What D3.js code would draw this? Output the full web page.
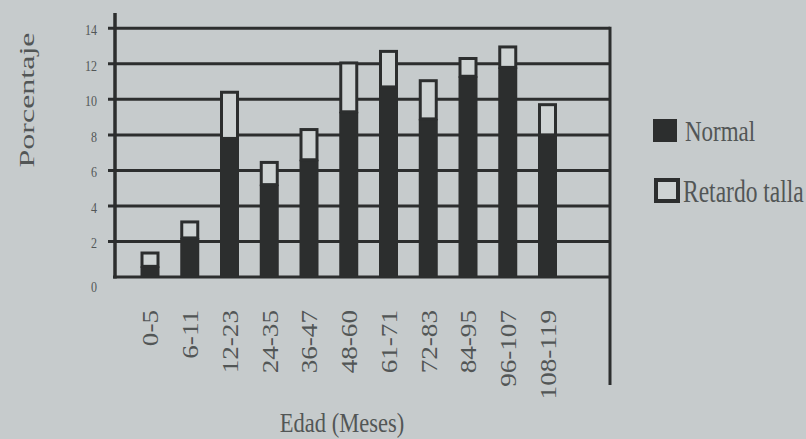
<!DOCTYPE html>
<html>
<head>
<meta charset="utf-8">
<script src="https://cdn.jsdelivr.net/npm/d3@7"></script>
<style>
  html, body { margin: 0; padding: 0; background: #c6cbcc; }
  svg { display: block; }
  text { font-family: "Liberation Serif", "Times New Roman", serif; fill: #53575700; fill: #525656; }
</style>
</head>
<body>
<svg id="chart" width="806" height="439"></svg>
<script>
// ---- data ----
const categories = ["0-5","6-11","12-23","24-35","36-47","48-60","61-71","72-83","84-95","96-107","108-119"];
const normal  = [0.6, 2.2, 7.8, 5.2, 6.6, 9.3, 10.7, 8.9, 11.3, 11.8, 8.0];
const retardo = [0.75, 0.9, 2.6, 1.25, 1.7, 2.75, 2.0, 2.15, 1.0, 1.15, 1.7];
const yTicks = [0, 2, 4, 6, 8, 10, 12, 14];
const seriesNames = ["Normal", "Retardo talla"];

const DARK = "#2c2e2e";
const BOXFILL = "#ced3d3";

const svg = d3.select("#chart");
const rows = categories.map((c, i) => ({cat: c, normal: normal[i], retardo: retardo[i]}));
const stacked = d3.stack().keys(["normal", "retardo"])(rows);

const x = d3.scalePoint().domain(categories).range([150, 547.5]);
const y = d3.scaleLinear().domain([0, 14]).range([277, 28.3]);
const barW = 16;

// gridlines (behind bars)
svg.append("g").selectAll("line").data(yTicks).join("line")
  .attr("x1", d => d === 0 ? 113 : 108).attr("x2", 610)
  .attr("y1", d => y(d)).attr("y2", d => y(d))
  .attr("stroke", DARK).attr("stroke-width", 3);

// right frame line
svg.append("line").attr("x1", 610).attr("x2", 610).attr("y1", y(14) - 1.5).attr("y2", 385)
  .attr("stroke", DARK).attr("stroke-width", 3);

// left axis line
svg.append("line").attr("x1", 115).attr("x2", 115).attr("y1", 13).attr("y2", y(0) + 1.5)
  .attr("stroke", DARK).attr("stroke-width", 3.5);

// Normal bars (dark)
svg.append("g").selectAll("rect").data(stacked[0]).join("rect")
  .attr("x", d => x(d.data.cat) - barW / 2 - 1.5)
  .attr("width", barW + 3)
  .attr("y", d => y(d[1]))
  .attr("height", d => y(d[0]) - y(d[1]))
  .attr("fill", DARK);

// Retardo talla boxes (outlined)
svg.append("g").selectAll("rect").data(stacked[1]).join("rect")
  .attr("x", d => x(d.data.cat) - barW / 2)
  .attr("width", barW)
  .attr("y", d => y(d[1]))
  .attr("height", d => y(d[0]) - y(d[1]))
  .attr("fill", BOXFILL).attr("stroke", DARK).attr("stroke-width", 3);

// y tick labels
svg.append("g").selectAll("text").data(yTicks).join("text")
  .attr("transform", d => `translate(97,${y(d) + (d === 0 ? 10 : 1.5)}) scale(1,1.25)`)
  .attr("text-anchor", "end").attr("dy", "0.35em")
  .style("font-size", "12px")
  .text(d => d);

// x labels (rotated)
svg.append("g").selectAll("text").data(categories).join("text")
  .attr("transform", d => `translate(${x(d) + 8.3},310) rotate(-90) scale(1.18,1)`)
  .attr("text-anchor", "end")
  .style("font-size", "23px")
  .text(d => d);

// axis titles
svg.append("text")
  .attr("transform", "translate(34,100) rotate(-90) scale(1.6,1)")
  .attr("text-anchor", "middle")
  .style("font-size", "20px")
  .text("Porcentaje");

svg.append("text")
  .attr("transform", "translate(342,432) scale(1,1.2)")
  .attr("text-anchor", "middle")
  .style("font-size", "22.5px")
  .text("Edad (Meses)");

// legend
const lg = svg.append("g");
lg.append("rect").attr("x", 653).attr("y", 119).attr("width", 24).attr("height", 23).attr("fill", DARK);
lg.append("rect").attr("x", 656).attr("y", 180).attr("width", 22).attr("height", 21)
  .attr("fill", BOXFILL).attr("stroke", DARK).attr("stroke-width", 4);
lg.append("text").attr("transform", "translate(685,141) scale(1,1.3)")
  .style("font-size", "23px").text(seriesNames[0]);
lg.append("text").attr("transform", "translate(683,201.5) scale(1,1.3)")
  .style("font-size", "23.5px").text(seriesNames[1]);
</script>
</body>
</html>
